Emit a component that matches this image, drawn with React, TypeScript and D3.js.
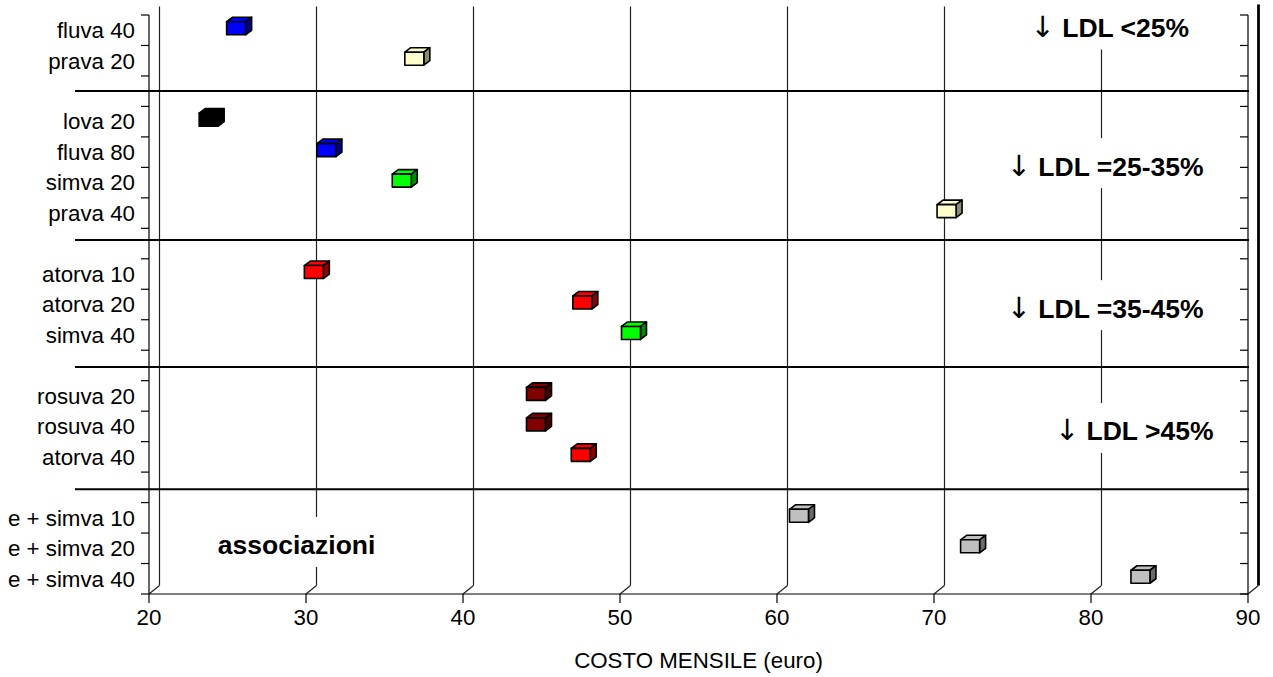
import React from 'react';
import * as d3 from 'd3';

// ---------- data ----------
const categories: string[] = [
  'fluva 40', 'prava 20', '',
  'lova 20', 'fluva 80', 'simva 20', 'prava 40', '',
  'atorva 10', 'atorva 20', 'simva 40', '',
  'rosuva 20', 'rosuva 40', 'atorva 40', '',
  'e + simva 10', 'e + simva 20', 'e + simva 40',
];
const costs: (number | null)[] = [
  25.55, 36.9, null,
  23.8, 31.3, 36.1, 70.8, null,
  30.5, 47.6, 50.7, null,
  44.65, 44.65, 47.5, null,
  61.4, 72.3, 83.15,
];
const markerColors: (string | null)[] = [
  '#0000FF', '#FFFFCC', null,
  '#000000', '#0000FF', '#00FF00', '#FFFFCC', null,
  '#FF0000', '#FF0000', '#00FF00', null,
  '#800000', '#800000', '#FF0000', null,
  '#C0C0C0', '#C0C0C0', '#C0C0C0',
];
const xTicks: number[] = [20, 30, 40, 50, 60, 70, 80, 90];
const xTitle = 'COSTO MENSILE (euro)';
// group separators (in category-slot units)
const separatorSlots: number[] = [2.49, 7.38, 11.55, 15.56];
// group annotations
const groupArrow: string[] = ['↓', '↓', '↓', '↓', ''];
const groupText: string[] = ['LDL <25%', 'LDL =25-35%', 'LDL =35-45%', 'LDL >45%', 'associazioni'];
const groupX: number[] = [81.2, 80.9, 80.9, 82.75, 29.4];
const groupSlot: number[] = [0.41, 4.96, 9.62, 13.65, 17.39];

// ---------- layout ----------
const W = 1273;
const H = 677;
const left = 149;
const right = 1248;
const top = 15;
const bottom = 594;
const DX = 10.5;
const DY = -8.5;
const FONT = '"Liberation Sans", Arial, sans-serif';
const FS = 22.3;
const BFS = 26.5;

function darker(c: string, k: number) {
  const col = d3.color(c)!.rgb();
  return d3.rgb(col.r * k, col.g * k, col.b * k).formatHex();
}

export default function App() {
  const x = d3.scaleLinear().domain([20, 90]).range([left, right]);
  const n = categories.length;
  const y = d3.scaleLinear().domain([0, n]).range([top, bottom]);
  const slotTicks = d3.range(n + 1);

  const bw = 19;
  const bh = 13;
  const ddx = 6;
  const ddy = -4.5;

  return (
    <svg width={W} height={H} style={{ position: 'absolute', left: 0, top: 0, background: '#fff' }}
      fontFamily={FONT}>
      <rect x={0} y={0} width={W} height={H} fill="#fff" />
      {/* back-wall gridlines */}
      {xTicks.slice(0, -1).map((t) => (
        <g key={'g' + t}>
          <line x1={x(t) + DX} x2={x(t) + DX} y1={top + DY} y2={bottom + DY} stroke="#222" strokeWidth={1.2} />
          <line x1={x(t)} x2={x(t) + DX} y1={bottom} y2={bottom + DY} stroke="#222" strokeWidth={1.2} />
        </g>
      ))}
      {/* right back edge (thick) */}
      <line x1={x(90) + DX} x2={x(90) + DX} y1={top + DY - 2} y2={bottom + DY} stroke="#000" strokeWidth={2.8} />
      <line x1={x(90)} x2={x(90) + DX} y1={bottom} y2={bottom + DY} stroke="#222" strokeWidth={1.2} />

      {/* white boxes behind annotations */}
      {groupText.map((t, i) => {
        const cy = y(groupSlot[i]);
        const w = i === 4 ? 180 : 200;
        return (
          <rect key={'bx' + i} x={x(groupX[i]) - w / 2} y={cy - 3 - 25} width={w} height={50} fill="#fff" />
        );
      })}

      {/* front axes */}
      <line x1={left} x2={left} y1={top} y2={bottom} stroke="#000" strokeWidth={1.2} />
      <line x1={right} x2={right} y1={top} y2={bottom} stroke="#000" strokeWidth={1.2} />
      <line x1={left} x2={right} y1={bottom} y2={bottom} stroke="#000" strokeWidth={1.2} />
      {slotTicks.map((s) => (
        <g key={'yt' + s}>
          <line x1={left - 8} x2={left} y1={y(s)} y2={y(s)} stroke="#000" strokeWidth={1.2} />
          <line x1={right - 8} x2={right} y1={y(s)} y2={y(s)} stroke="#000" strokeWidth={1.2} />
        </g>
      ))}
      {xTicks.map((t) => (
        <g key={'xt' + t}>
          <line x1={x(t)} x2={x(t)} y1={bottom} y2={bottom + 9} stroke="#000" strokeWidth={1.2} />
          <text x={x(t)} y={bottom + 31} textAnchor="middle" fontSize={FS} fill="#000">{t}</text>
        </g>
      ))}
      <text x={(left + right) / 2} y={668} textAnchor="middle" fontSize={FS} fill="#000">{xTitle}</text>

      {/* separators */}
      {separatorSlots.map((s, i) => (
        <line key={'sep' + i} x1={75} x2={right + 1} y1={y(s)} y2={y(s)} stroke="#000" strokeWidth={2} />
      ))}

      {/* category labels */}
      {categories.map((c, i) => c ? (
        <text key={'cl' + i} x={135} y={y(i + 0.5) + 7.8} textAnchor="end" fontSize={FS} fill="#000">{c}</text>
      ) : null)}

      {/* 3D box markers */}
      {costs.map((v, i) => {
        if (v == null) return null;
        const col = markerColors[i]!;
        const cx = x(v);
        const cy = y(i + 0.5) - 2;
        const x0 = cx - bw / 2, x1 = cx + bw / 2, y0 = cy - bh / 2, y1 = cy + bh / 2;
        const side = darker(col, 0.55);
        return (
          <g key={'m' + i} stroke="#000" strokeWidth={1.6} strokeLinejoin="round">
            <polygon points={`${x0},${y0} ${x0 + ddx},${y0 + ddy} ${x1 + ddx},${y0 + ddy} ${x1},${y0}`} fill={col} />
            <polygon points={`${x1},${y0} ${x1 + ddx},${y0 + ddy} ${x1 + ddx},${y1 + ddy} ${x1},${y1}`} fill={side} />
            <rect x={x0} y={y0} width={bw} height={bh} fill={col} />
          </g>
        );
      })}

      {/* annotations */}
      {groupText.map((t, i) => (
        <text key={'ga' + i} x={x(groupX[i])} y={y(groupSlot[i]) + 9.5} textAnchor="middle" fontSize={BFS}
          fontWeight="bold" fill="#000">
          {groupArrow[i] ? (
            <tspan fontFamily='"DejaVu Sans", sans-serif' fontWeight="normal" fontSize={29} fill="#000">{groupArrow[i]}</tspan>
          ) : null}
          {groupArrow[i] ? ' ' + t : t}
        </text>
      ))}
    </svg>
  );
}
